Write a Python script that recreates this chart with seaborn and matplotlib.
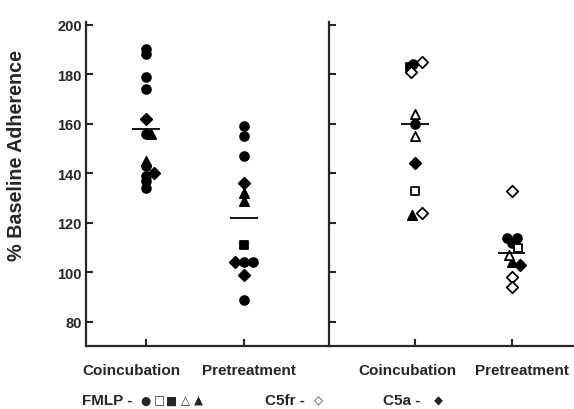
import numpy as np
import pandas as pd
import matplotlib
matplotlib.use("Agg")
import matplotlib.pyplot as plt
import matplotlib.transforms as mtransforms
import seaborn as sns

# ----------------------------
# Data
# ----------------------------
groups = ["Coincubation", "Pretreatment"]

# FMLP / C5a panel
left_co_vals = [190, 188, 179, 174, 162, 156, 156, 145, 143, 140, 139, 137, 134]
left_co_kind = ["circ", "circ", "circ", "circ", "fdiam", "ftri", "circ", "ftri",
                "circ", "fdiam", "circ", "circ", "circ"]
left_pre_vals = [159, 155, 147, 136, 132, 129, 111, 104, 104, 104, 99, 89]
left_pre_kind = ["circ", "circ", "circ", "fdiam", "ftri", "ftri", "fsq", "fdiam",
                 "circ", "circ", "fdiam", "circ"]

# C5fr panel
right_co_vals = [185, 184, 183, 181, 164, 160, 155, 144, 133, 124, 123]
right_co_kind = ["odiam", "circ", "fsq", "odiam", "otri", "circ", "otri", "fdiam",
                 "osq", "odiam", "ftri"]
right_pre_vals = [133, 114, 114, 112, 110, 107, 104, 103, 98, 94]
right_pre_kind = ["odiam", "circ", "circ", "circ", "osq", "otri", "ftri", "fdiam",
                  "odiam", "odiam"]

left_means = [158, 122]
right_means = [160, 108]

# small sideways shifts of overlapping symbols (style only)
left_co_shift = [0, 0, 0, 0, 0, 0.05, 0, 0, 0, 0.08, 0, 0, 0]
left_pre_shift = [0, 0, 0, 0, 0, 0, 0, -0.09, 0, 0.09, 0, 0]
right_co_shift = [0.07, -0.02, -0.05, -0.04, 0, 0, 0, 0, 0, 0.07, -0.03]
right_pre_shift = [0, -0.05, 0.05, 0, 0.06, -0.03, 0, 0.08, 0, 0]

marker_style = {
    "circ": ("o", "black", 40),
    "fsq": ("s", "black", 34),
    "osq": ("s", "white", 34),
    "ftri": ("^", "black", 44),
    "otri": ("^", "white", 44),
    "fdiam": ("D", "black", 34),
    "odiam": ("D", "white", 34),
}


def make_df(vals_list, kind_list, shift_list):
    rows = []
    for gi, (vals, kinds, shifts) in enumerate(zip(vals_list, kind_list, shift_list)):
        for v, k, s in zip(vals, kinds, shifts):
            rows.append({"x": gi + s, "value": v, "kind": k})
    return pd.DataFrame(rows)


left_df = make_df([left_co_vals, left_pre_vals], [left_co_kind, left_pre_kind],
                  [left_co_shift, left_pre_shift])
right_df = make_df([right_co_vals, right_pre_vals], [right_co_kind, right_pre_kind],
                   [right_co_shift, right_pre_shift])

# ----------------------------
# Plot
# ----------------------------
sns.set_style("ticks")
plt.rcParams["font.family"] = ["Liberation Sans", "DejaVu Sans"]
plt.rcParams["font.weight"] = "bold"

fig = plt.figure(figsize=(5.74, 4.10), dpi=100)
ax1 = fig.add_axes([0.1498, 0.1537, 0.4233, 0.79])
ax2 = fig.add_axes([0.5732, 0.1537, 0.44, 0.79], sharey=ax1)


def draw(ax, df, means):
    for kind, (mk, fc, sz) in marker_style.items():
        sub = df[df["kind"] == kind]
        if len(sub) == 0:
            continue
        sns.scatterplot(data=sub, x="x", y="value", ax=ax, marker=mk, s=sz,
                        color=fc, edgecolor="black", linewidth=1.3, zorder=3,
                        legend=False)
    ax.hlines(means, np.arange(len(means)) - 0.14, np.arange(len(means)) + 0.14,
              color="black", lw=1.3, zorder=4)
    ax.set_xlabel("")
    ax.set_ylabel("")
    ax.set_xticks(range(len(groups)))
    ax.set_xticklabels([])
    ax.tick_params(axis="both", direction="in", length=5, width=1.5)
    ax.spines["top"].set_visible(False)
    ax.spines["right"].set_visible(False)
    for sp in ["left", "bottom"]:
        ax.spines[sp].set_linewidth(1.6)


draw(ax1, left_df, left_means)
draw(ax2, right_df, right_means)

ax1.set_xlim(-0.612, 1.867)
ax2.set_xlim(-0.887, 1.72)
ax1.set_ylim(70.3, 201)
ax1.set_yticks(range(80, 201, 20))
ax1.tick_params(axis="y", pad=3, labelsize=10.5)
for lab in ax1.get_yticklabels():
    lab.set_fontweight("bold")
ax2.tick_params(axis="y", labelleft=False)
ax1.set_ylabel("% Baseline Adherence", fontsize=14.2, fontweight="bold")
ax1.yaxis.set_label_coords(-0.247, 0.59)

# category names under each panel (slightly off their ticks, as printed)
lab_y = 1 - 371 / 410
for ax, xs, has in [(ax1, [-0.153, 1.05], ["center", "center"]),
                    (ax2, [-0.077, 0.619], ["center", "left"])]:
    tr = mtransforms.blended_transform_factory(ax.transData, fig.transFigure)
    for name, xp, ha in zip(groups, xs, has):
        ax.text(xp, lab_y, name, transform=tr, ha=ha, va="center",
                fontsize=11, fontweight="bold", clip_on=False)

# symbol key under the axis
key_y = 1 - 401 / 410
fig.text(82 / 574, key_y, "FMLP -", fontsize=11, fontweight="bold", va="center")
for sym, px in zip(["●", "□", "■", "△", "▲"], [145, 159, 172, 185, 198]):
    fig.text(px / 574, key_y, sym, fontsize=8.5, ha="center", va="center",
             family="DejaVu Sans")
fig.text(265 / 574, key_y, "C5fr -", fontsize=11, fontweight="bold", va="center")
fig.text(318 / 574, key_y, "◇", fontsize=8.5, ha="center", va="center",
         family="DejaVu Sans")
fig.text(383 / 574, key_y, "C5a -", fontsize=11, fontweight="bold", va="center")
fig.text(438 / 574, key_y, "◆", fontsize=8.5, ha="center", va="center",
         family="DejaVu Sans")

fig.savefig("out.png", dpi=100)
